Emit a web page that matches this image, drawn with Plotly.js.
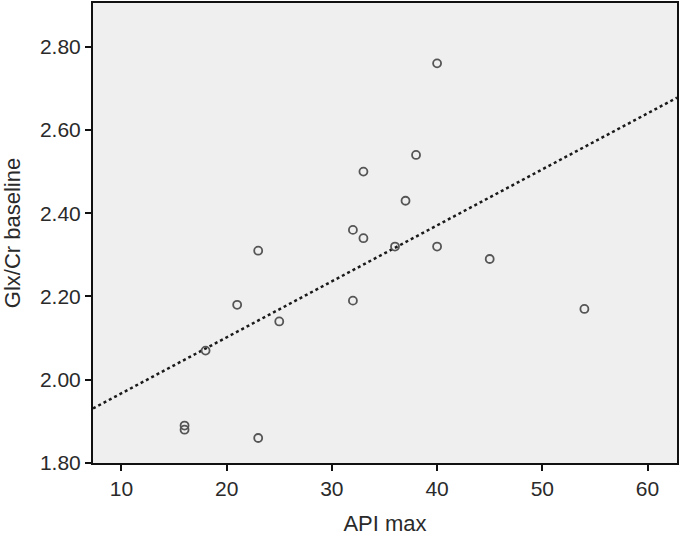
<!DOCTYPE html>
<html>
<head>
<meta charset="utf-8">
<script src="https://cdn.plot.ly/plotly-3.0.1.min.js"></script>
<style>
  html, body { margin: 0; padding: 0; background: #fff; }
  #chart { width: 681px; height: 537px; }
</style>
</head>
<body>
<div id="chart"></div>
<script>
// API max vs Glx/Cr baseline
var apiMax = [16, 16, 18, 21, 23, 23, 25, 32, 32, 33, 33, 36, 37, 38, 40, 40, 45, 54];
var glxCr = [1.89, 1.88, 2.07, 2.18, 2.31, 1.86, 2.14, 2.36, 2.19, 2.50, 2.34, 2.32, 2.43, 2.54, 2.76, 2.32, 2.29, 2.17];
var xTicks = [10, 20, 30, 40, 50, 60];
var yTicks = [1.8, 2.0, 2.2, 2.4, 2.6, 2.8];
var xRange = [7.3, 62.8];
var yRange = [1.80, 2.905];

// least squares fit line, as drawn by the stats package
function linFit(xs, ys) {
    var n = xs.length, mx = 0, my = 0;
    for (var i = 0; i < n; i++) { mx += xs[i]; my += ys[i]; }
    mx /= n; my /= n;
    var sxy = 0, sxx = 0;
    for (var j = 0; j < n; j++) {
        sxy += (xs[j] - mx) * (ys[j] - my);
        sxx += (xs[j] - mx) * (xs[j] - mx);
    }
    var b = sxy / sxx;
    return { a: my - b * mx, b: b };
}
var fit = linFit(apiMax, glxCr);

var points = {
    x: apiMax,
    y: glxCr,
    mode: 'markers',
    type: 'scatter',
    marker: {
        symbol: 'circle-open',
        size: 8,
        color: '#555',
        line: { width: 1.8, color: '#555' },
    },
    hoverinfo: 'x+y',
};

var line = {
    x: xRange,
    y: [fit.a + fit.b * xRange[0], fit.a + fit.b * xRange[1]],
    mode: 'lines',
    type: 'scatter',
    line: { color: '#1a1a1a', width: 2.5, dash: 'dot' },
    hoverinfo: 'skip',
};

var layout = {
    width: 681,
    height: 537,
    showlegend: false,
    paper_bgcolor: '#fff',
    plot_bgcolor: '#efefef',
    font: { family: 'Liberation Sans, Arial, sans-serif', color: '#2a2a2a', size: 21 },
    margin: { l: 93, r: 4, t: 3, b: 74 },
    xaxis: {
        range: xRange,
        tickvals: xTicks,
        ticktext: xTicks.map(String),
        ticks: 'outside',
        ticklen: 6,
        tickwidth: 2,
        tickcolor: '#111',
        showgrid: false,
        zeroline: false,
        showline: true,
        mirror: true,
        linecolor: '#111',
        linewidth: 2,
        tickfont: { size: 21 },
        title: { text: 'API max', font: { size: 22 }, standoff: 16 },
    },
    yaxis: {
        range: yRange,
        tickvals: yTicks,
        ticktext: yTicks.map(function (v) { return v.toFixed(2); }),
        ticks: 'outside',
        ticklen: 6,
        tickwidth: 2,
        tickcolor: '#111',
        showgrid: false,
        zeroline: false,
        showline: true,
        mirror: true,
        linecolor: '#111',
        linewidth: 2,
        tickfont: { size: 21 },
        title: { text: 'Glx/Cr baseline', font: { size: 22 }, standoff: 14 },
    },
};

Plotly.newPlot(document.getElementById('chart'), [line, points], layout, { displayModeBar: false, staticPlot: true });
</script>
</body>
</html>
